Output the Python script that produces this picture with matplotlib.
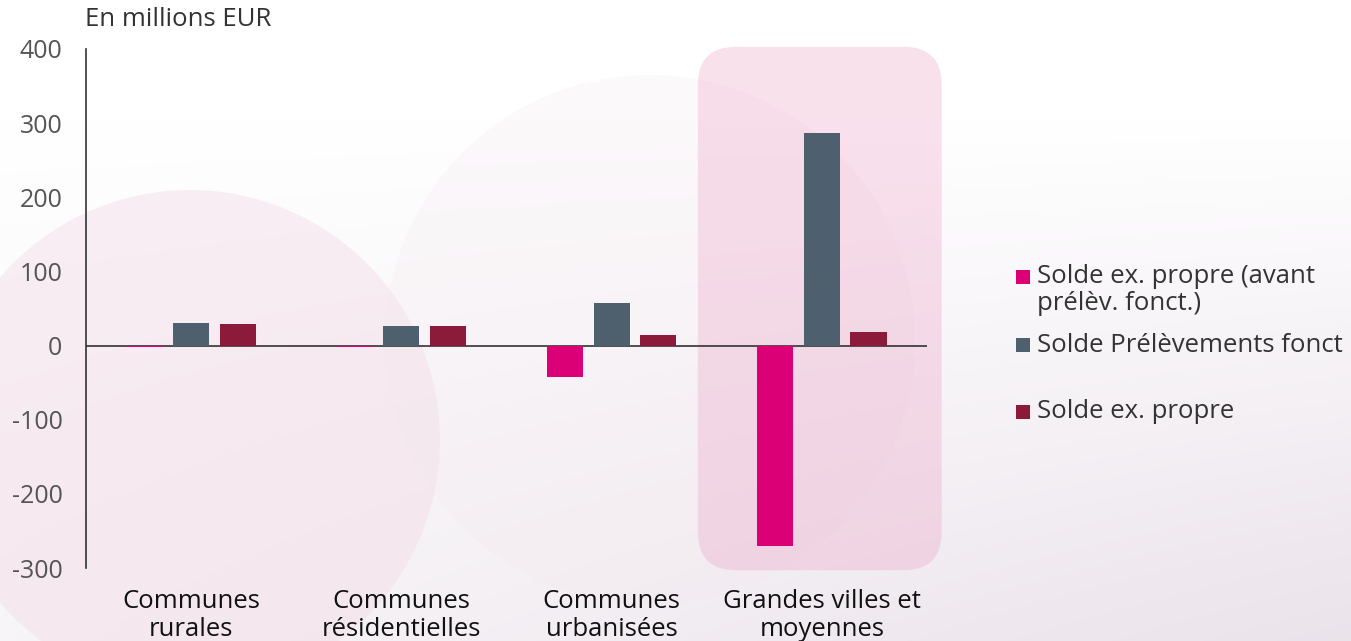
import numpy as np
import matplotlib.pyplot as plt
from matplotlib.patches import FancyBboxPatch, Circle, Rectangle
from matplotlib.transforms import IdentityTransform

plt.rcParams['font.family'] = ['Open Sans', 'DejaVu Sans']

# données (en millions EUR)
categories = ['Communes\nrurales', 'Communes\nrésidentielles',
              'Communes\nurbanisées', 'Grandes villes et\nmoyennes']
series_names = ['Solde ex. propre (avant\nprélèv. fonct.)',
                'Solde Prélèvements fonct',
                'Solde ex. propre']
solde_avant = [-2, -2, -42, -270]
solde_prelev = [31, 27, 57, 287]
solde_propre = [29, 26, 14, 18]
yticks = [-300, -200, -100, 0, 100, 200, 300, 400]

colors = ['#dc0076', '#4e606e', '#8c1a3a']

W, H = 1351, 641
fig = plt.figure(figsize=(W / 100, H / 100), dpi=100)

# fond clair (dégradé + cercles pâles)
bg = fig.add_axes([0, 0, 1, 1], zorder=-10)
bg.set_xlim(0, W)
bg.set_ylim(H, 0)
bg.axis('off')
yy, xx = np.mgrid[0:H, 0:W]
t = np.clip((yy - 120) / (H - 120), 0, 1)
s = xx / W
k = (t * (0.35 + 0.65 * s))[..., None]
top = np.array([1.0, 1.0, 1.0])
bot = np.array([0.92, 0.89, 0.92])
img = top * (1 - k) + bot * k
bg.imshow(img, extent=[0, W, H, 0], aspect='auto', zorder=0)
bg.add_patch(Circle((190, 440), 250, color='#f3dbe6', alpha=0.45, lw=0, zorder=1))
bg.add_patch(Circle((650, 340), 265, color='#f4e8ef', alpha=0.25, lw=0, zorder=1))

ax = fig.add_axes([86 / W, 1 - 568 / H, (927 - 86) / W, (568 - 49) / H])
ax.patch.set_alpha(0)

x = np.arange(len(categories)) + 0.5
bw = 0.172
gap = 0.222
for i, (vals, c) in enumerate(zip([solde_avant, solde_prelev, solde_propre], colors)):
    ax.bar(x + (i - 1) * gap, vals, width=bw, color=c, zorder=3, label=series_names[i])

ax.set_xlim(0, len(categories))
ax.set_ylim(-300, 400)
ax.set_yticks(yticks)
ax.set_yticklabels([str(v) for v in yticks])
ax.set_xticks(x)
ax.set_xticklabels(categories, linespacing=1.15)
ax.tick_params(axis='y', length=0, pad=17, labelsize=18, labelcolor='#555555')
ax.tick_params(axis='x', length=0, pad=15, labelsize=18.5, labelcolor='#111111')
for sp in ['top', 'right', 'bottom']:
    ax.spines[sp].set_visible(False)
ax.spines['left'].set_color('#333333')
ax.spines['left'].set_linewidth(1.2)
ax.axhline(0, color='#333333', lw=1.2, zorder=2.5)

# encadré arrondi autour du dernier groupe
fig.canvas.draw()
x0, y0 = ax.transData.transform((x[-1] - 0.59, -303))
x1, y1 = ax.transData.transform((x[-1] + 0.57, 403))
rad = 38
box = FancyBboxPatch((x0 + rad, y0 + rad), (x1 - x0) - 2 * rad, (y1 - y0) - 2 * rad,
                     boxstyle='round,pad=%d' % rad, transform=IdentityTransform(),
                     facecolor='#ec9cc3', alpha=0.3, lw=0, zorder=-5)
fig.patches.append(box)

fig.text(85 / W, 1 - 20 / H, 'En millions EUR', fontsize=18.5, color='#333333',
         va='center', ha='left')

# légende
leg_y = [277, 345, 412]
for name, c, ly in zip(series_names, colors, leg_y):
    fig.patches.append(Rectangle((1016 / W, 1 - (ly + 7) / H), 14 / W, 14 / H,
                                 transform=fig.transFigure, color=c, lw=0))
    for j, line in enumerate(name.split('\n')):
        fig.text(1037 / W, 1 - (ly + j * 27) / H, line, fontsize=18.5, color='#333333',
                 va='center', ha='left')

fig.savefig('out.png', dpi=100)
